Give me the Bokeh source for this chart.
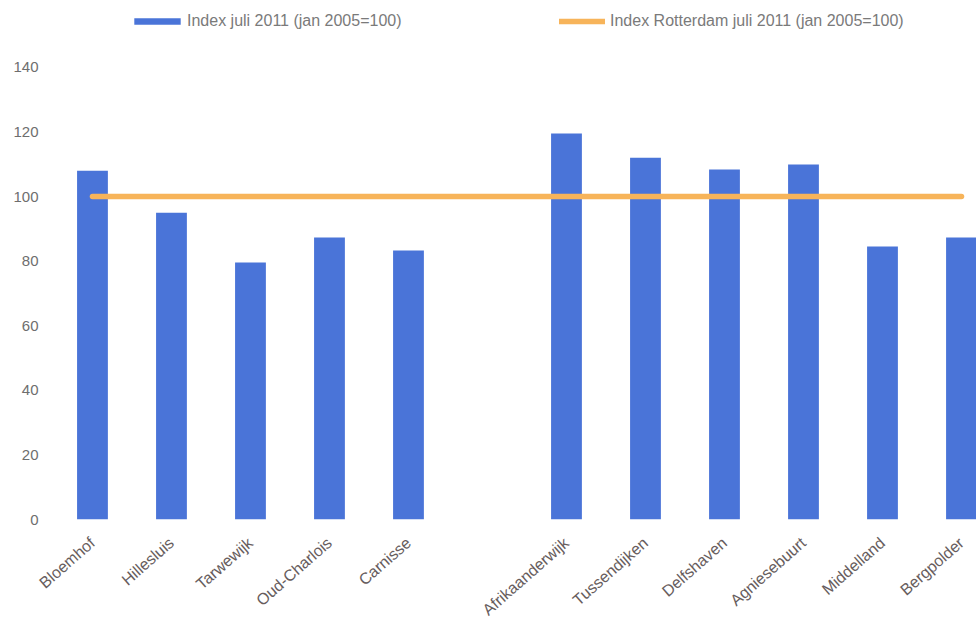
from bokeh.plotting import figure
from bokeh.models import Range1d, FixedTicker, Legend, LegendItem
from bokeh.embed import file_html
from bokeh.resources import INLINE

# ---- data -------------------------------------------------------------
categories = ["Bloemhof", "Hillesluis", "Tarwewijk", "Oud-Charlois", "Carnisse", "",
              "Afrikaanderwijk", "Tussendijken", "Delfshaven", "Agniesebuurt",
              "Middelland", "Bergpolder"]
index_juli_2011 = [108, 95, 79.6, 87.3, 83.3, None, 119.5, 112, 108.4, 109.9, 84.5, 87.3]
index_rotterdam = 100
y_ticks = [0, 20, 40, 60, 80, 100, 120, 140]
series_names = ["Index juli 2011 (jan 2005=100)",
                "Index Rotterdam juli 2011 (jan 2005=100)"]

BLUE = "#4a74d8"
ORANGE = "#f7b45a"
FONT = "Liberation Sans"

xs = [i for i, c in enumerate(categories) if c]
vals = [index_juli_2011[i] for i in xs]

p = figure(width=976, height=627, output_backend="svg", toolbar_location=None,
           x_range=Range1d(-0.506, 11.19), y_range=Range1d(0, 160.7),
           min_border_left=52, min_border_right=0, min_border_top=0,
           min_border_bottom=108)
p.outline_line_color = None
p.xgrid.grid_line_color = None
p.ygrid.grid_line_color = None

r_bar = p.vbar(x=xs, top=vals, width=0.39, fill_color=BLUE, line_color=None)
r_line = p.line(x=[xs[0], xs[-1]], y=[index_rotterdam, index_rotterdam],
                line_width=5.5, line_color=ORANGE, line_cap="round")

# y axis
ya = p.yaxis[0]
ya.ticker = FixedTicker(ticks=y_ticks)
ya.axis_line_color = None
ya.major_tick_line_color = None
ya.minor_tick_line_color = None
ya.major_label_standoff = 8
ya.major_label_text_font = FONT
ya.major_label_text_font_size = "15px"
ya.major_label_text_color = "#6e6e6e"

# x axis
xa = p.xaxis[0]
xa.ticker = FixedTicker(ticks=xs)
xa.major_label_overrides = {i: categories[i] for i in xs}
xa.axis_line_color = None
xa.major_tick_line_color = None
xa.minor_tick_line_color = None
xa.major_label_orientation = 0.72
xa.major_label_standoff = 15
xa.major_label_text_font = FONT
xa.major_label_text_font_size = "16px"
xa.major_label_text_color = "#675d5d"

def make_legend(item, loc, gw, gh, standoff):
    lg = Legend(items=[item], location=loc, orientation="horizontal",
                border_line_color=None, background_fill_alpha=0,
                padding=0, margin=0, spacing=0,
                glyph_width=gw, glyph_height=gh, label_standoff=standoff,
                label_height=20,
                label_text_font=FONT, label_text_font_size="16px",
                label_text_color="#7a7a7a")
    return lg

p.add_layout(make_legend(LegendItem(label=series_names[0], renderers=[r_bar]),
                         (76, 488), 58, 8, 1), "center")
p.add_layout(make_legend(LegendItem(label=series_names[1], renderers=[r_line]),
                         (507, 488), 46, 8, 5), "center")

open("out.html", "w").write(file_html(p, INLINE))
